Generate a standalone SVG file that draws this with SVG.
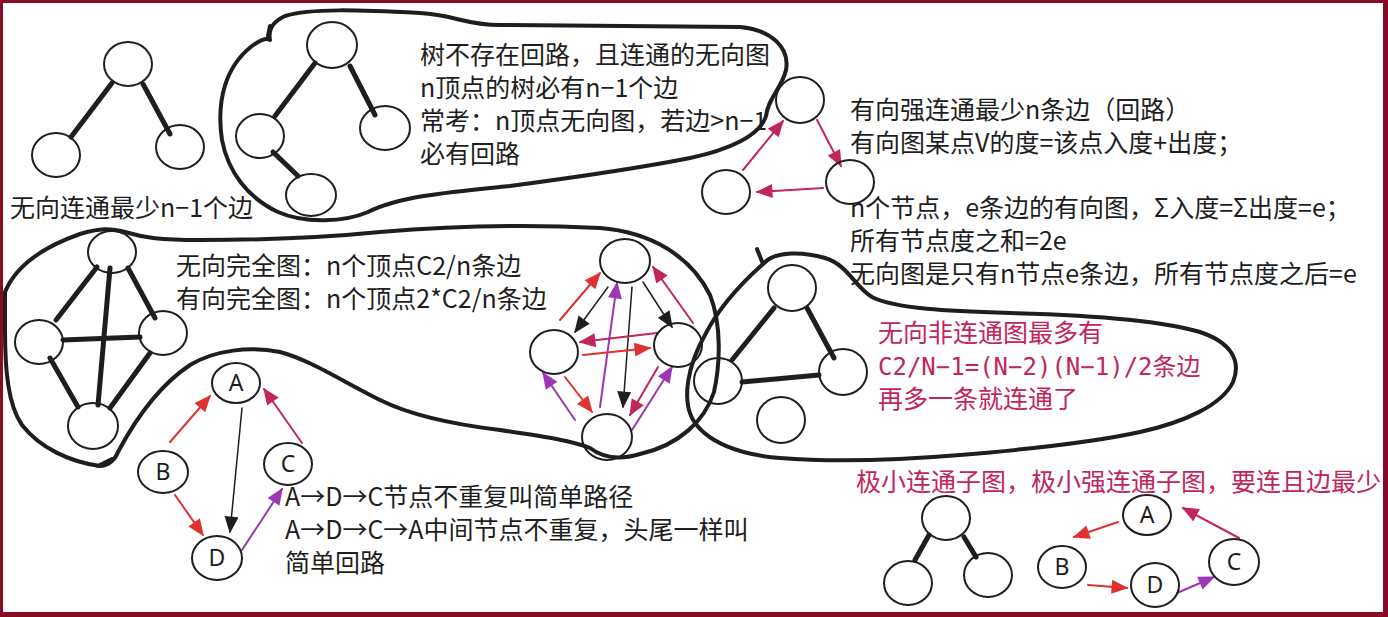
<svg xmlns="http://www.w3.org/2000/svg" width="1388" height="617" viewBox="0 0 1388 617">
<defs>
<style>
.blob{fill:none;stroke:#1e1e1e;stroke-width:4;stroke-linecap:round;stroke-linejoin:round}
.nd{fill:none;stroke:#1e1e1e;stroke-width:2}
.ed{stroke:#1e1e1e;stroke-width:5;stroke-linecap:round}
.t{font-family:"Noto Sans CJK SC","Noto Sans",sans-serif;font-size:25px;fill:#1e1e1e}
.tr{font-family:"Noto Sans CJK SC","Noto Sans",sans-serif;font-size:25px;fill:#c2255c}
.tm{font-family:"DejaVu Sans Mono","Noto Sans CJK SC",monospace;font-size:24px;fill:#c2255c}
.lb{font-family:"Noto Sans","Noto Sans CJK SC",sans-serif;font-size:23px;fill:#1e1e1e;text-anchor:middle}
.ar{fill:none;stroke-width:2;stroke-linecap:round}
.red{stroke:#e03131;marker-end:url(#mr)}
.crm{stroke:#c2255c;marker-end:url(#mc)}
.pur{stroke:#9c36b5;marker-end:url(#mp)}
.blk{stroke:#1e1e1e;stroke-width:1.5;marker-end:url(#mk)}
</style>
<marker id="mr" viewBox="0 0 12 10" refX="11" refY="5" markerWidth="18" markerHeight="14" markerUnits="userSpaceOnUse" orient="auto"><path d="M0,0 L12,5 L0,10 Z" fill="#e03131"/></marker>
<marker id="mc" viewBox="0 0 12 10" refX="11" refY="5" markerWidth="18" markerHeight="14" markerUnits="userSpaceOnUse" orient="auto"><path d="M0,0 L12,5 L0,10 Z" fill="#c2255c"/></marker>
<marker id="mp" viewBox="0 0 12 10" refX="11" refY="5" markerWidth="18" markerHeight="14" markerUnits="userSpaceOnUse" orient="auto"><path d="M0,0 L12,5 L0,10 Z" fill="#9c36b5"/></marker>
<marker id="mk" viewBox="0 0 12 10" refX="11" refY="5" markerWidth="18" markerHeight="14" markerUnits="userSpaceOnUse" orient="auto"><path d="M0,0 L12,5 L0,10 Z" fill="#1e1e1e"/></marker>
</defs>
<rect x="0" y="0" width="1388" height="617" fill="#ffffff"/>
<rect x="1.5" y="1.5" width="1383" height="612" fill="none" stroke="#8a0b25" stroke-width="3"/>
<rect x="1383" y="0" width="5" height="617" fill="#8a0b25"/>
<rect x="0" y="612" width="1388" height="5" fill="#8a0b25"/>

<g id="blobs">
<path id="blob-tree" class="blob" d="M 270,40 C 268,30 272,22 285,16 C 310,8 360,10 420,13 C 455,15 465,25 500,25 L 740,27 C 772,30 790,48 786,70 C 782,88 768,98 766,116 C 760,136 728,150 690,158 C 640,168 570,178 510,186 C 450,192 400,196 368,212 C 345,222 305,224 278,212 C 248,198 228,172 222,140 C 216,100 226,66 252,46 C 260,40 266,37 270,40 Z"/>
<path class="blob" stroke-width="5" d="M 268,36 L 270,26"/>
<path id="blob-complete" class="blob" d="M 5,292 C 15,268 40,248 80,234 C 100,228 110,228 125,232 C 145,238 160,240 200,240 C 260,240 320,238 380,232 C 440,227 520,224 600,228 C 650,232 690,255 710,295 C 722,325 720,365 714,392 C 705,420 680,445 640,454 C 620,460 603,458 590,448 C 570,440 540,436 500,430 C 450,424 410,415 380,400 C 340,380 310,360 280,352 C 250,346 215,350 190,365 C 160,385 135,420 118,452 C 115,460 108,466 100,466 C 70,462 40,448 22,425 C 8,405 5,370 5,330 Z"/>
<path class="blob" stroke-width="5" d="M 98,466 L 112,459"/>
<path id="blob-disconnected" class="blob" d="M 763,264 C 775,250 805,252 825,258 C 848,265 855,287 872,297 C 895,309 950,311 1010,313 C 1090,315 1160,320 1200,332 C 1230,342 1242,360 1233,382 C 1222,405 1185,422 1140,432 C 1090,443 1020,450 960,455 C 900,460 830,462 780,458 C 740,455 705,442 692,418 C 682,398 688,365 705,335 C 720,305 745,280 763,264 Z"/>
<path class="blob" stroke-width="5" d="M 757,249 L 763,264"/>
</g>

<g id="connectors">
<line class="ed" x1="112" y1="83" x2="71" y2="137"/>
<line class="ed" x1="143" y1="84" x2="170" y2="134"/>
<line class="ed" x1="315" y1="63" x2="275" y2="116"/>
<line class="ed" x1="350" y1="66" x2="375" y2="115"/>
<line class="ed" x1="273" y1="152" x2="298" y2="176"/>
<line class="ed" x1="97" y1="267" x2="56" y2="320"/>
<line class="ed" x1="128" y1="268" x2="155" y2="318"/>
<line class="ed" x1="110" y1="268" x2="98" y2="405"/>
<line class="ed" x1="63" y1="340" x2="140" y2="337"/>
<line class="ed" x1="50" y1="358" x2="78" y2="407"/>
<line class="ed" x1="150" y1="353" x2="110" y2="408"/>
<line class="ed" x1="774" y1="308" x2="732" y2="360"/>
<line class="ed" x1="807" y1="308" x2="834" y2="358"/>
<line class="ed" x1="742" y1="382" x2="819" y2="375"/>
<line class="ed" x1="929" y1="535" x2="915" y2="560"/>
<line class="ed" x1="964" y1="537" x2="976" y2="557"/>
<line class="ar crm" x1="743" y1="170" x2="783" y2="121"/>
<line class="ar crm" x1="817" y1="120" x2="841" y2="166"/>
<line class="ar crm" x1="823" y1="188" x2="757" y2="192"/>
<line class="ar red" x1="560" y1="320" x2="600" y2="273"/>
<line class="ar blk" x1="608" y1="287" x2="575" y2="332"/>
<line class="ar pur" x1="600" y1="407" x2="617" y2="283"/>
<line class="ar blk" x1="632" y1="287" x2="623" y2="407"/>
<line class="ar blk" x1="643" y1="282" x2="672" y2="327"/>
<line class="ar crm" x1="693" y1="323" x2="653" y2="267"/>
<line class="ar crm" x1="657" y1="333" x2="580" y2="342"/>
<line class="ar red" x1="583" y1="355" x2="650" y2="348"/>
<line class="ar pur" x1="575" y1="420" x2="543" y2="373"/>
<line class="ar red" x1="565" y1="377" x2="592" y2="412"/>
<line class="ar crm" x1="658" y1="367" x2="630" y2="415"/>
<line class="ar pur" x1="632" y1="430" x2="672" y2="367"/>
<line class="ar red" x1="170" y1="442" x2="210" y2="396"/>
<line class="ar crm" x1="302" y1="443" x2="264" y2="389"/>
<line class="ar blk" x1="242" y1="408" x2="230" y2="532"/>
<line class="ar red" x1="175" y1="495" x2="203" y2="535"/>
<line class="ar pur" x1="242" y1="550" x2="282" y2="489"/>
<line class="ar red" x1="1118" y1="522" x2="1074" y2="537"/>
<line class="ar crm" x1="1239" y1="538" x2="1183" y2="508"/>
<line class="ar red" x1="1088" y1="585" x2="1127" y2="588"/>
<line class="ar pur" x1="1177" y1="593" x2="1214" y2="577"/>
</g>

<g id="tree1-a"><ellipse class="nd" cx="128" cy="64" rx="24" ry="22"/></g>
<g id="tree1-b"><ellipse class="nd" cx="56" cy="155" rx="24" ry="22"/></g>
<g id="tree1-c"><ellipse class="nd" cx="180" cy="147" rx="24" ry="22"/></g>

<g id="tree2-a"><ellipse class="nd" cx="332" cy="45" rx="25" ry="23"/></g>
<g id="tree2-b"><ellipse class="nd" cx="260" cy="136" rx="24" ry="22"/></g>
<g id="tree2-c"><ellipse class="nd" cx="385" cy="128" rx="25" ry="22"/></g>
<g id="tree2-d"><ellipse class="nd" cx="311" cy="195" rx="25" ry="21"/></g>

<g id="tri-a"><ellipse class="nd" cx="800" cy="100" rx="24" ry="23"/></g>
<g id="tri-b"><ellipse class="nd" cx="726" cy="192" rx="24" ry="22"/></g>
<g id="tri-c"><ellipse class="nd" cx="850" cy="182" rx="24" ry="22"/></g>

<g id="k4u-a"><ellipse class="nd" cx="112" cy="252" rx="24" ry="21"/></g>
<g id="k4u-b"><ellipse class="nd" cx="39" cy="342" rx="24" ry="22"/></g>
<g id="k4u-c"><ellipse class="nd" cx="163" cy="333" rx="24" ry="22"/></g>
<g id="k4u-d"><ellipse class="nd" cx="93" cy="426" rx="25" ry="23"/></g>

<g id="k4d-a"><ellipse class="nd" cx="625" cy="261" rx="25" ry="22"/></g>
<g id="k4d-b"><ellipse class="nd" cx="554" cy="352" rx="24" ry="22"/></g>
<g id="k4d-c"><ellipse class="nd" cx="678" cy="345" rx="24" ry="22"/></g>
<g id="k4d-d"><ellipse class="nd" cx="607" cy="437" rx="25" ry="23"/></g>

<g id="dis-a"><ellipse class="nd" cx="792" cy="288" rx="24" ry="23"/></g>
<g id="dis-b"><ellipse class="nd" cx="718" cy="381" rx="24" ry="23"/></g>
<g id="dis-c"><ellipse class="nd" cx="843" cy="372" rx="24" ry="23"/></g>
<g id="dis-d"><ellipse class="nd" cx="781" cy="420" rx="24" ry="23"/></g>

<g id="path-A"><ellipse class="nd" cx="236" cy="383" rx="24" ry="20"/><text class="lb" x="236" y="391">A</text></g>
<g id="path-B"><ellipse class="nd" cx="163" cy="472" rx="25" ry="21"/><text class="lb" x="163" y="480">B</text></g>
<g id="path-C"><ellipse class="nd" cx="288" cy="464" rx="24" ry="21"/><text class="lb" x="288" y="472">C</text></g>
<g id="path-D"><ellipse class="nd" cx="217" cy="558" rx="25" ry="22"/><text class="lb" x="217" y="566">D</text></g>

<g id="min-a"><ellipse class="nd" cx="946" cy="518" rx="24" ry="22"/></g>
<g id="min-b"><ellipse class="nd" cx="908" cy="583" rx="24" ry="22"/></g>
<g id="min-c"><ellipse class="nd" cx="988" cy="575" rx="24" ry="22"/></g>

<g id="scc-A"><ellipse class="nd" cx="1147" cy="515" rx="24" ry="20"/><text class="lb" x="1147" y="523">A</text></g>
<g id="scc-B"><ellipse class="nd" cx="1062" cy="567" rx="24" ry="21"/><text class="lb" x="1062" y="575">B</text></g>
<g id="scc-C"><ellipse class="nd" cx="1234" cy="562" rx="25" ry="23"/><text class="lb" x="1234" y="570">C</text></g>
<g id="scc-D"><ellipse class="nd" cx="1155" cy="585" rx="24" ry="22"/><text class="lb" x="1155" y="593">D</text></g>

<g id="texts">
<text class="t" x="10" y="217">无向连通最少n−1个边</text>
<text class="t" x="420" y="64">树不存在回路，且连通的无向图</text>
<text class="t" x="420" y="97">n顶点的树必有n−1个边</text>
<text class="t" x="420" y="130">常考：n顶点无向图，若边&gt;n−1</text>
<text class="t" x="420" y="163">必有回路</text>
<text class="t" x="850" y="119">有向强连通最少n条边（回路）</text>
<text class="t" x="850" y="152">有向图某点V的度=该点入度+出度；</text>
<text class="t" x="850" y="217">n个节点，e条边的有向图，Σ入度=Σ出度=e；</text>
<text class="t" x="850" y="250">所有节点度之和=2e</text>
<text class="t" x="850" y="283">无向图是只有n节点e条边，所有节点度之后=e</text>
<text class="t" x="176" y="275">无向完全图：n个顶点C2/n条边</text>
<text class="t" x="176" y="308">有向完全图：n个顶点2*C2/n条边</text>
<text class="tr" x="878" y="342">无向非连通图最多有</text>
<text class="tm" x="878" y="375">C2/N−1=(N−2)(N−1)/2条边</text>
<text class="tr" x="878" y="408">再多一条就连通了</text>
<text class="t" x="285" y="506">A→D→C节点不重复叫简单路径</text>
<text class="t" x="285" y="539">A→D→C→A中间节点不重复，头尾一样叫</text>
<text class="t" x="285" y="572">简单回路</text>
<text class="tr" x="856" y="491">极小连通子图，极小强连通子图，要连且边最少</text>
</g>
</svg>
